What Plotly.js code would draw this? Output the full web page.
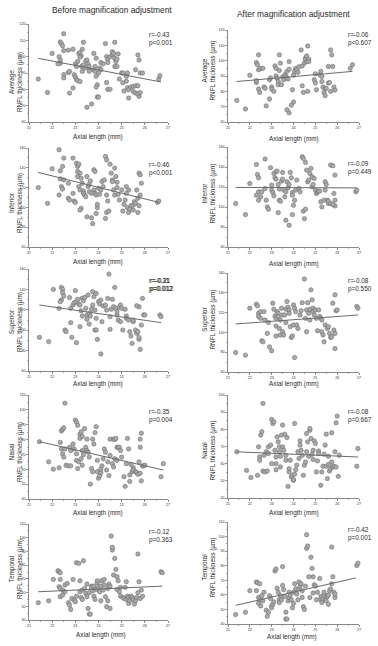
<!DOCTYPE html>
<html>
<head>
<meta charset="utf-8">
<script src="https://cdn.plot.ly/plotly-3.0.1.min.js"></script>
<style>html,body{margin:0;padding:0;background:#fff;}#chart{width:378px;height:646px;}</style>
</head>
<body>
<div id="chart"></div>
<script>
// ---------- DATA ----------
const columnTitles = ["Before magnification adjustment", "After magnification adjustment"];
const sectorNames = ["Average", "Inferior", "Superior", "Nasal", "Temporal"];
const xAxisTitle = "Axial length (mm)";
const yAxisSuffix = "RNFL thickness (µm)";
const axialTicks = [21, 22, 23, 24, 25, 26, 27];

// Average, before
const avgBeforeAL = [21.4,21.8,22.0,22.5,22.35,22.4,22.45,22.5,22.3,22.35,
22.35,22.25,22.5,22.5,22.7,22.7,22.75,22.75,22.9,22.95,
23,23.05,23.1,23.2,22.9,23,23.05,23.1,23.15,23.2,
23.25,23.3,23.35,23.3,23.27,23.35,23.2,23.4,23.45,23.5,
23.55,23.6,23.6,23.6,23.5,23.7,23.8,23.85,23.8,23.85,
23.9,23.95,23.9,23.95,24,23.9,24.05,24.1,24.1,24.2,
24,24.3,24.35,24.4,24.4,24.35,24.4,24.5,24.5,24.6,
24.6,24.65,24.7,24.7,24.75,24.7,24.8,24.85,24.8,24.9,
25,25.05,25.05,25.1,25.2,25.25,25.2,25.25,25.3,25.3,
25.4,25.5,25.5,25.6,25.6,25.7,25.6,25.7,25.75,25.75,
25.7,25.8,25.8,25.9,26.6,26.65];
const avgBeforeRNFL = [86.3,78.1,102,114,109,108,106.6,103.7,100,98,
96,95.6,89,87,104,90.3,91,77.7,104.5,89,
87.5,86,85.4,84.8,80.8,95.6,94,97,102,102.5,
100.5,104.5,108.8,91,94,95,99.7,93,97.6,98,
95.4,92,94,91,69,71,102,94,91.9,91,
88,82.8,81.4,75.3,75.3,99,93,96.4,92,95.6,
90,108,100,98.5,96.4,84.2,80,80,100,103,
101,102,108.8,99,97,94,98.5,101.7,94,86.3,
90,90,84,79,85,90,88,81,79.8,74.7,
81.4,78.7,81.8,82.2,77.7,82.2,92,101,98,75.7,
77.3,78,90,90,86.3,88.3];
const avgBeforeFitAL = [21.4, 26.7];
const avgBeforeFitRNFL = [99, 84.5];

// Average, after
const avgAfterAL = [21.4,21.8,22.0,22.3,22.35,22.4,22.4,22.3,22.4,22.45,
22.5,22.6,22.3,22.65,22.7,22.75,22.9,22.9,22.95,23,
23,23.1,23.15,23.2,23.2,23.25,23.3,23.35,23.4,23.35,
23.3,23.45,23.5,23.55,23.6,23.65,23.7,23.7,23.75,23.8,
23.8,23.8,23.9,23.7,23.95,24,24,24.05,24.1,24.15,
24.2,24.25,24.35,24.4,24.45,24.4,24.5,24.55,24.55,24.6,
24.6,24.65,24.7,24.7,24.65,24.95,25,25,25.05,25.2,
25.25,25.3,25.3,25.35,25.4,25.45,25.45,25.5,25.6,25.6,
25.65,25.7,25.7,25.75,25.8,25.85,25.9,26.6,26.7];
const avgAfterRNFL = [74.1,68.5,90.5,98.8,97.3,94,103.8,85.8,81.5,79.3,
95,95,87,82.8,82,70.5,87.5,75,88.8,82.8,
81.5,80,96.6,95,90,88.5,86.4,103.8,98.4,93.6,
84.3,84.3,89.3,87.6,90.8,89.7,88.6,93,88,99.4,
94.4,66,71,68,81,73,90.5,93,95,94,
92.4,96,107,83.6,79.3,96.6,98.5,101.6,101,99.4,
103,109.6,101,99.4,80,87.6,91.4,85.4,81,90.8,
93,89.7,86.4,82.8,79.3,81.5,77.2,82,85.4,96.2,
85.8,80,107,103.8,96.2,82.8,80.8,95,97.3];
const avgAfterFitAL = [21.4, 26.7];
const avgAfterFitRNFL = [86.4, 93];

// Inferior, before
const infBeforeAL = [21.4,21.8,22,22.3,22.35,22.35,22.45,22.5,22.5,22.4,
22.45,22.3,22.7,22.7,22.75,22.9,22.9,22.95,23,23.05,
23.1,23.1,23.15,23.2,23.1,23.15,23.2,23.25,23.3,23.35,
23.25,23.2,23.35,23.4,23.45,23.5,23.55,23.6,23.6,23.5,
23.7,23.8,23.85,23.8,23.85,23.9,23.7,23.75,23.65,23.95,
23.95,23.9,24,24.05,24.1,24.15,24.2,24.25,24.3,24.35,
24.35,24.4,24.5,24.55,24.6,24.6,24.65,24.7,24.3,24.35,
24.45,24.75,24.8,24.8,24.85,24.7,24.9,25,25.05,25.1,
25.15,25.2,25.3,25.2,25.25,25.3,25.35,25.4,25.5,25.5,
25.55,25.6,25.65,25.7,25.75,25.8,25.8,25.75,25.7,25.85,
26.55,26.6];
const infBeforeRNFL = [120,104.1,139,158.3,137,128.8,141.4,149.8,127.8,121,
118.6,112.5,124.4,109.2,107.5,149.8,114.2,106.4,105.1,144.7,
136.3,141.4,143.7,134.6,131.2,121,117.6,129.5,124.4,116.6,
99,97.3,114.2,112.5,110.8,131.2,121,115.9,123.4,90.5,
114.2,138,136.3,117.6,114.2,112.5,89.5,83.7,126.8,99.7,
103.1,93.9,119.3,113.2,117.6,126.1,121,127.8,151.5,148.1,
112.5,106.4,143.7,134.6,127.8,126.1,117.6,112.5,88.8,94.9,
96.3,131.2,125.4,120,113.2,139.7,107.5,117.6,96.3,103.1,
107.5,121,117.6,114.2,99.7,94.9,98.3,101.7,102.4,97.3,
105.8,104.1,117.6,109.2,134.6,132.9,112.5,101.7,94.9,124.4,
105.1,106.4];
const infBeforeFitAL = [21.4, 26.6];
const infBeforeFitRNFL = [135.3, 105.1];

// Inferior, after
const infAfterAL = [21.35,21.8,22,22.3,22.35,22.4,22.4,22.5,22.3,22.4,
22.55,22.7,22.7,22.75,22.8,22.85,22.95,23,23,23.05,
23.1,23.1,23.15,23.2,23.2,23.25,23.3,23.35,23.35,23.3,
23.4,23.45,23.5,23.5,23.55,23.6,23.65,23.65,23.8,23.7,
23.75,23.8,23.85,23.9,23.95,23.95,24,23.95,24.05,24.1,
24.15,24.25,24.3,24.4,24.45,24.55,24.6,24.65,24.7,24.75,
24.45,24.5,24.55,24.8,24.85,24.85,24.9,24.95,25,25.05,
25.1,25.15,25.2,25.25,25.3,25.4,25.45,25.5,25.45,25.55,
25.6,25.6,25.7,25.7,25.8,25.9,25.85,25.9,25.9,25.8,
26.85,26.9];
const infAfterRNFL = [103.5,92.4,123.5,142.6,132.6,129.2,115.2,110.2,111.8,106.8,
115.2,148,118.5,106.8,100.1,97.8,139.3,116.9,121.9,114.5,
111.2,133.6,129.2,127.9,135.3,135.9,122.5,117.9,106.8,94.4,
105.8,125.9,134.6,127.9,116.9,110.2,115.2,86.8,81.7,125.2,
119.2,122.5,134.6,129.2,114.5,111.8,101.8,92.4,106.8,116.9,
126.9,118.5,115.2,150.3,148.6,144.6,136.9,125.2,126.9,133.6,
95.8,88.4,97.8,138.6,130.2,120.2,122.5,128.6,116.9,113.5,
115.2,115.9,115.9,105.2,100.1,106.8,125.2,122.5,116.9,106.8,
103.5,105.8,103.5,141.9,141.3,131.9,113.5,106.8,101.1,102.5,
115.2,116.9];
const infAfterFitAL = [21.35, 26.9];
const infAfterFitRNFL = [119.6, 119.1];

// Superior, before
const supBeforeAL = [21.45,21.85,22.05,22.3,22.4,22.45,22.45,22.4,22.35,22.5,
22.55,22.6,22.75,22.8,22.8,22.85,22.9,22.95,23,23.05,
23.05,23.1,23.15,23.2,23.2,23.25,23.3,23.3,23.35,23.4,
23.45,23.5,23.5,23.55,23.6,23.6,23.65,23.7,23.75,23.75,
23.8,23.85,23.9,23.85,23.9,23.95,23.9,24,24.05,24.1,
24.1,24.15,24.2,24.3,24.35,24.4,24.45,24.5,24.5,24.55,
24.6,24.65,24.7,24.75,24.8,24.8,24.85,24.9,24.95,24.95,
25,25.05,25.15,25.2,25.2,25.3,25.35,25.4,25.45,25.5,
25.5,25.6,25.65,25.7,25.75,25.75,25.8,25.85,25.9,25.95,
26,26.65,26.7,25.75,25.65];
const supBeforeRNFL = [93,88.8,140,121.4,142,140,136.8,129.6,128,133.5,
100.2,98.6,132,121.4,107.4,93,124.7,127,138.8,128,
87.8,130.3,125.7,103.5,124.7,119,113.9,131.3,129,132,
121.4,115,110.7,134.5,116.5,106,113.9,120.5,137.8,124.7,
132.9,119.8,111.6,100.2,100.2,91,136,128,125.7,129.6,
76.7,108.4,123.7,124.7,119.8,131.2,155,113.3,100.8,120.5,
130.3,123,142,121.4,115,118,110,122.4,108.4,124.7,
121.4,100.2,120.5,113.9,111.6,110,98.6,94.3,87.1,108.4,
110,100.2,97,98.6,91,93,81.2,105,131.2,115,
115,115,113.3,123,124];
const supBeforeFitAL = [21.45, 26.7];
const supBeforeFitRNFL = [124.7, 107.4];

// Superior, after
const supAfterAL = [21.35,21.8,22,22.3,22.35,22.4,22.4,22.5,22.5,22.55,
22.6,22.65,22.7,22.8,22.85,22.9,23,23.05,23.1,23.15,
23.2,23.2,23.2,23.25,23.3,23.3,23.35,23.4,23.4,23.45,
23.5,23.5,23.55,23.6,23.65,23.65,23.7,23.75,23.8,23.8,
23.85,23.9,23.95,24,24,24.05,24.1,24.15,24.05,24.2,
24.3,24.35,24.4,24.5,24.55,24.6,24.6,24.65,24.7,24.75,
24.75,24.8,24.85,24.9,24.9,24.95,25,25.05,25.1,25.15,
25.2,25.25,25.3,25.3,25.35,25.4,25.45,25.55,25.6,25.65,
25.7,25.75,25.8,25.85,25.9,25.9,25.95,26,25.9,26.9,
26.95];
const supAfterRNFL = [79.7,77,124.4,128.5,126.8,119.3,116,114.2,121,91.5,
90.5,121,112.5,99,110,85.4,81.4,129.5,123.4,116.6,
114.2,106.4,96.3,121,119.3,116,104,112.5,97.3,124.4,
117.6,100.7,97.3,117.6,123.4,110,131.2,125.4,122.7,119.3,
105.8,94.9,96.3,107.5,127.8,124.4,121,107.5,74.6,104,
117.6,122,130,153.9,114.2,100.7,122.7,130,119.3,123.4,
112.5,143,132.9,124.4,121,117.6,122.7,114.2,101.7,122.7,
116,114.2,112.5,100.7,97.3,90.5,107.5,104,105.8,99,
94.9,95.6,129.5,102.4,99,83.7,122,122.7,138,126.1,
124.4];
const supAfterFitAL = [21.35, 26.95];
const supAfterFitRNFL = [108.5, 117.6];

// Nasal, before
const nasBeforeAL = [21.45,21.85,22.05,22.3,22.35,22.4,22.45,22.5,22.55,22.4,
22.45,22.5,22.55,22.6,22.7,22.75,22.8,22.8,22.9,22.95,
23,23.05,23.1,23.05,23.05,23.15,23.1,23.2,23.2,23.25,
23.3,23.3,23.35,23.25,23.3,23.4,23.45,23.5,23.5,23.55,
23.6,23.65,23.7,23.75,23.75,23.8,23.85,23.9,23.95,23.95,
24,24.05,24.1,24.1,24.15,24.2,24.25,24.3,24.35,24.4,
24.45,24.5,24.5,24.6,24.65,24.65,24.7,24.7,24.75,24.8,
24.8,24.85,24.9,24.95,25,25.1,25.15,25.2,25.25,25.3,
25.35,25.35,25.4,25.45,25.5,25.5,25.6,25.65,25.7,25.75,
25.8,25.8,25.85,25.9,25.85,25.95,26,26.7,26.8,25.8];
const nasBeforeRNFL = [78.6,65,60.1,61,78.1,85.8,86.9,88,104.5,73.7,
70.4,68.2,73.7,62.7,62.3,74.8,72.6,62.3,77,73.7,
93.1,91.8,89.6,70.4,66,65,60.5,83.6,80.8,85.2,
82.1,72.6,69.8,67.1,62.7,87.4,74.8,72.6,80.3,71.5,
68.2,50,60.5,58.4,80.3,77,84.7,88.7,66,58.4,
54,55.7,57.9,60.1,62.3,67.1,73.7,71.5,59.5,65,
55.7,80.3,69.3,63.8,80.3,61.6,67.1,80,80.8,74.8,
66,74.8,74.8,72.6,68.2,55,48.5,63.8,80.8,73.7,
51.8,56.2,63.2,58.4,61,59.5,58.4,57.9,56.6,65,
74.8,80.3,84.3,62.3,52.2,62.3,62.7,55,63.8,57.3];
const nasBeforeFitAL = [21.45, 26.8];
const nasBeforeFitRNFL = [78.6, 59.5];

// Nasal, after
const nasAfterAL = [21.4,21.85,22.05,22.35,22.4,22.45,22.45,22.5,22.55,22.6,
22.65,22.6,22.7,22.75,22.8,22.85,22.85,22.95,23,23,
23.05,23.1,23.15,23.2,23.2,23.2,23.25,23.3,23.35,23.35,
23.4,23.4,23.45,23.5,23.5,23.55,23.6,23.65,23.65,23.7,
23.75,23.8,23.8,23.85,23.9,23.95,24,24,24.05,24.1,
24.15,24.05,24.2,24.25,24.3,24.3,24.35,24.4,24.45,24.5,
24.55,24.6,24.6,24.65,24.7,24.75,24.75,24.8,24.85,24.9,
24.9,24.95,25,25.05,25.1,25.15,25.15,25.25,25.3,25.35,
25.4,25.45,25.5,25.5,25.55,25.6,25.6,25.65,25.7,25.75,
25.75,25.8,25.85,25.9,25.95,25.95,26,26.05,26.1,26.9,
26.95];
const nasAfterRNFL = [66.9,56.1,51.9,53.2,69.8,63.9,62,76.6,78.6,95.1,
64.9,55.7,55.2,66.9,55.7,65.9,69.8,70.8,60,85.8,
83.4,84.4,67.8,63.9,60,56.5,75.6,72.7,69.8,66.9,
64.3,58.1,76.6,82.5,69.8,67.8,77.2,64.9,62,75.2,
46.8,55.2,57.1,62,52.2,53.2,50.3,50.7,53.8,56.5,
59.1,83.4,66.9,63,73.3,70.8,67.8,64.9,53.2,59.1,
61,77.6,66.9,72.7,64.3,79.5,80.5,74.7,65.5,67.8,
62.4,73.3,71.7,55.2,61.6,67.4,65.9,47.4,55.2,58.5,
65.5,70.8,77.2,58.5,51.3,59.6,64.3,55.7,57.1,61,
78,58.1,58.5,66.9,83.8,58.1,87.7,52.6,64.9,58.5,
68.8];
const nasAfterFitAL = [21.4, 26.95];
const nasAfterFitRNFL = [66.9, 63.9];

// Temporal, before
const temBeforeAL = [21.4,21.85,22.05,22.25,22.3,22.35,22.35,22.3,22.35,22.45,
22.35,22.45,22.55,22.55,22.65,22.7,22.75,22.8,22.85,22.9,
22.95,23,23.05,23.05,23.15,23.2,23.2,23.25,23.3,23.3,
23.35,23.4,23.45,23.5,23.5,23.55,23.6,23.65,23.6,23.7,
23.7,23.75,23.8,23.8,23.85,23.9,23.95,23.95,24,24.05,
24.1,24.1,24.15,24.2,24.25,24.25,24.3,24.35,24.4,24.4,
24.45,24.5,24.5,24.55,24.6,24.6,24.65,24.7,24.75,24.8,
24.8,24.85,24.9,24.95,24.95,25.05,25.1,25.15,25.2,25.2,
25.25,25.3,25.3,25.35,25.4,25.45,25.5,25.55,25.6,25.65,
25.7,25.7,25.75,25.8,25.85,25.9,26.7,26.75];
const temBeforeRNFL = [52.6,54,69.6,75.9,75.2,74.5,69.6,64.3,63,61.8,
57,58.2,60.6,65.5,66.7,52.6,50.9,47.7,55.7,69.6,
54.5,53.3,57.4,81.8,81.3,68.6,60.6,56.5,55,61.8,
83.2,63,59.4,66.2,57,48.4,44.3,44.3,59.9,64.7,
63.8,61.3,64.7,57.4,55,62.3,67.2,68.6,63.8,60.6,
54,64.7,68.6,61.8,65.5,69.6,57,49.7,54,63,
66.2,64.7,48.4,101.2,91,93,72.8,84.9,76.9,62.3,
71.6,68.6,60.6,63.8,57.4,56.5,55.7,63.8,55,67.9,
57.4,52.1,56.5,54,57.4,56.5,55,51.6,54,56.5,
59.9,88.1,67.9,55.7,61.8,57.4,75.2,74.5];
const temBeforeFitAL = [21.4, 26.75];
const temBeforeFitRNFL = [60.6, 64.7];

// Temporal, after
const temAfterAL = [21.35,21.8,22,22.3,22.35,22.45,22.3,22.4,22.45,22.4,
22.5,22.55,22.6,22.65,22.75,22.8,22.85,22.9,22.95,23,
23,23.05,23.1,23.15,23.2,23.25,23.3,23.35,23.35,23.4,
23.45,23.5,23.5,23.55,23.6,23.65,23.7,23.65,23.75,23.8,
23.8,23.85,23.9,23.95,24,24,24.05,24.1,24.15,24.2,
24.25,24.25,24.3,24.35,24.4,24.4,24.45,24.5,24.55,24.6,
24.6,24.65,24.7,24.75,24.8,24.85,24.9,24.9,24.95,25,
25.05,25.1,25.2,25.25,25.25,25.3,25.35,25.4,25.4,25.45,
25.5,25.55,25.6,25.6,25.65,25.7,25.75,25.75,25.8,25.85,
25.9,25.9,26.9,26.95];
const temAfterRNFL = [46.5,48.1,62.9,68.8,68.4,67.6,62.9,58.2,56.6,54.2,
52.4,59.4,55.9,61.8,49.5,45.3,48.1,59.4,57.5,52.4,
51.2,53.5,55.2,76.4,77.8,64.6,61.8,56.6,54.7,59.4,
56.6,79.4,66.5,63.6,58.9,43.4,43.4,48.1,55.9,61.8,
58.2,59.9,56.6,51.2,54.2,61.8,67.6,64.1,60.6,56.6,
68.8,64.1,66,67.6,62.9,58.2,51.9,50,66,101.3,
91.9,93.5,72.4,58.2,85.8,78.2,72.4,61.3,66.9,66,
56.6,61.8,71.2,56.6,58.9,54.7,57.5,59.9,61.8,56.6,
55.9,58.9,53.5,59.9,62.9,64.1,67.6,92.8,72.4,61.8,
58.2,60.6,80.1,81.8];
const temAfterFitAL = [21.35, 26.85];
const temAfterFitRNFL = [52.8, 71.6];

const rLabels = ["r=-0.43","r=-0.06","r=-0.46","r=-0.09","r=-0.31","r=-0.08","r=-0.35","r=-0.08","r=-0.12","r=-0.42"];
const pLabels = ["p&lt;0.001","p&lt;0.607","p&lt;0.001","p=0.449","p=0.012","p=0.550","p=0.004","p=0.667","p=0.363","p=0.001"];

// ---------- LAYOUT (pixel geometry) ----------
const W = 378, H = 646;
const px = v => v / W;
const py = v => 1 - v / H;

const panels = [
  {x: avgBeforeAL, y: avgBeforeRNFL, fx: avgBeforeFitAL, fy: avgBeforeFitRNFL, box:[29,24,168,122], range:[60,120], dtick:10},
  {x: avgAfterAL,  y: avgAfterRNFL,  fx: avgAfterFitAL,  fy: avgAfterFitRNFL,  box:[228,30,359,122], range:[60,120], dtick:10},
  {x: infBeforeAL, y: infBeforeRNFL, fx: infBeforeFitAL, fy: infBeforeFitRNFL, box:[29,148,168,247], range:[60,160], dtick:20},
  {x: infAfterAL,  y: infAfterRNFL,  fx: infAfterFitAL,  fy: infAfterFitRNFL,  box:[228,147,359,247], range:[60,160], dtick:20},
  {x: supBeforeAL, y: supBeforeRNFL, fx: supBeforeFitAL, fy: supBeforeFitRNFL, box:[29,269,168,371], range:[60,160], dtick:20},
  {x: supAfterAL,  y: supAfterRNFL,  fx: supAfterFitAL,  fy: supAfterFitRNFL,  box:[228,273,359,372], range:[60,160], dtick:20},
  {x: nasBeforeAL, y: nasBeforeRNFL, fx: nasBeforeFitAL, fy: nasBeforeFitRNFL, box:[29,395,168,499], range:[40,110], dtick:10},
  {x: nasAfterAL,  y: nasAfterRNFL,  fx: nasAfterFitAL,  fy: nasAfterFitRNFL,  box:[228,395,359,498], range:[40,100], dtick:10},
  {x: temBeforeAL, y: temBeforeRNFL, fx: temBeforeFitAL, fy: temBeforeFitRNFL, box:[29,524,168,620], range:[40,110], dtick:10},
  {x: temAfterAL,  y: temAfterRNFL,  fx: temAfterFitAL,  fy: temAfterFitRNFL,  box:[228,522,359,624], range:[40,110], dtick:10}
];

const yTitlePos = [[16,82],[208.5,71],[16,203],[208.5,194],[16,322],[208.5,320],[16,452],[208.5,451],[16,569],[208.5,568]];
const xTitlePos = [[98,137],[294,139],[98,262],[294,264],[98,384],[294,384],[98,513],[294,513],[101,635],[292,637]];
const statPos = [[147,29],[346,29],[147,159],[346,158],[147,275],[346,275],[147,406],[346,406],[147,526],[346,524]];

const FONT = "Liberation Sans, Arial, sans-serif";
const TXT = "#2a2a2a";
const AX = "#555";

const traces = [];
const layout = {
  width: W, height: H,
  margin: {l:0, r:0, t:0, b:0},
  paper_bgcolor: "#fff", plot_bgcolor: "#fff",
  showlegend: false,
  font: {family: FONT, color: TXT},
  annotations: []
};

panels.forEach((p, i) => {
  const n = i + 1;
  const xa = n === 1 ? "x" : "x" + n;
  const ya = n === 1 ? "y" : "y" + n;
  traces.push({
    type: "scatter", mode: "markers", x: p.x, y: p.y, xaxis: xa, yaxis: ya,
    marker: {size: 4.4, color: "#a9a9a9", line: {color: "#626262", width: 0.5}},
    hoverinfo: "skip", cliponaxis: false
  });
  traces.push({
    type: "scatter", mode: "lines", x: p.fx, y: p.fy, xaxis: xa, yaxis: ya,
    line: {color: "#6a6a6a", width: 1}, hoverinfo: "skip"
  });
  const [l, t, r, b] = p.box;
  layout["xaxis" + (n === 1 ? "" : n)] = {
    domain: [px(l), px(r)], anchor: ya, range: [21, 27],
    tickvals: axialTicks, ticktext: axialTicks.map(String),
    showline: true, linecolor: AX, linewidth: 0.7, mirror: false,
    ticks: "outside", ticklen: 2, tickwidth: 0.6, tickcolor: AX,
    minor: {ticks: "outside", ticklen: 1, dtick: 0.5, tickcolor: AX, tickwidth: 0.5},
    tickfont: {size: 3.6, color: TXT, family: FONT},
    showgrid: false, zeroline: false, fixedrange: true
  };
  layout["yaxis" + (n === 1 ? "" : n)] = {
    domain: [py(b), py(t)], anchor: xa, range: p.range, dtick: p.dtick,
    showline: true, linecolor: AX, linewidth: 0.7,
    ticks: "outside", ticklen: 2, tickwidth: 0.6, tickcolor: AX,
    minor: {ticks: "outside", ticklen: 1, dtick: p.dtick / 2, tickcolor: AX, tickwidth: 0.5},
    tickfont: {size: 3.6, color: TXT, family: FONT},
    showgrid: false, zeroline: false, fixedrange: true
  };
  layout.annotations.push({
    xref: "paper", yref: "paper", x: px(yTitlePos[i][0]), y: py(yTitlePos[i][1]),
    xanchor: "center", yanchor: "middle", textangle: -90, showarrow: false,
    text: sectorNames[Math.floor(i / 2)] + "<br>" + yAxisSuffix,
    font: {size: 6.4, color: TXT, family: FONT}
  });
  layout.annotations.push({
    xref: "paper", yref: "paper", x: px(xTitlePos[i][0]), y: py(xTitlePos[i][1]),
    xanchor: "center", yanchor: "middle", showarrow: false,
    text: xAxisTitle, font: {size: 6.4, color: TXT, family: FONT}
  });
  layout.annotations.push({
    xref: "paper", yref: "paper", x: px(statPos[i][0]), y: py(statPos[i][1]),
    xanchor: "left", yanchor: "top", align: "left", showarrow: false,
    text: rLabels[i] + "<br>" + pLabels[i],
    font: {size: 6.4, color: TXT, family: FONT}
  });
});

layout.annotations.push({
  xref: "paper", yref: "paper", x: px(statPos[4][0] + 0.5), y: py(statPos[4][1]),
  xanchor: "left", yanchor: "top", align: "left", showarrow: false,
  text: "r=-0.21<br>p=0.012", font: {size: 6.4, color: TXT, family: FONT}
});

layout.annotations.push({
  xref: "paper", yref: "paper", x: px(112), y: py(10), xanchor: "center", yanchor: "middle",
  showarrow: false, text: columnTitles[0], font: {size: 8.4, color: TXT, family: FONT}
});
layout.annotations.push({
  xref: "paper", yref: "paper", x: px(293), y: py(14), xanchor: "center", yanchor: "middle",
  showarrow: false, text: columnTitles[1], font: {size: 8.4, color: TXT, family: FONT}
});

Plotly.newPlot("chart", traces, layout, {staticPlot: true, displayModeBar: false});
</script>
</body>
</html>
